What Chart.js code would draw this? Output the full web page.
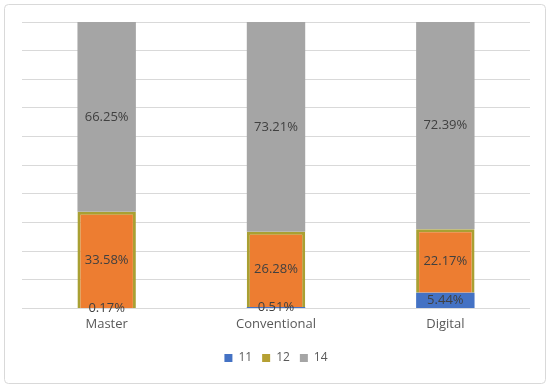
<!DOCTYPE html>
<html>
<head>
<meta charset="utf-8">
<script src="https://cdn.jsdelivr.net/npm/chart.js@4"></script>
<style>
  body { margin: 0; background: #fff; }
  #wrap { width: 550px; height: 388px; }
</style>
</head>
<body>
<div id="wrap"><canvas id="Groups" width="550" height="388"></canvas></div>
<script>
const categories = ['Master', 'Conventional', 'Digital'];
const seriesNames = ['11', '12', '14'];
const s11 = [0.17, 0.51, 5.44];
const s12 = [33.58, 26.28, 22.17];
const s14 = [66.25, 73.21, 72.39];

// rounded frame around the whole figure
const framePlugin = {
    id: 'frame',
    beforeDraw(chart) {
        const c = chart.ctx;
        c.save();
        c.fillStyle = '#fff';
        c.fillRect(0, 0, chart.width, chart.height);
        c.strokeStyle = '#d9d9d9';
        c.lineWidth = 1;
        c.beginPath();
        c.roundRect(4.5, 4.5, chart.width - 9, chart.height - 9, 4);
        c.stroke();
        c.restore();
    }
};

// percentage labels in the middle of each segment
const valueLabels = {
    id: 'valueLabels',
    afterDatasetsDraw(chart) {
        const c = chart.ctx;
        c.save();
        c.font = '13px "Open Sans", sans-serif';
        c.fillStyle = '#404040';
        c.textAlign = 'center';
        c.textBaseline = 'middle';
        chart.data.datasets.forEach((ds, i) => {
            chart.getDatasetMeta(i).data.forEach((bar, j) => {
                const y = (bar.y + bar.base) / 2;
                c.fillText(ds.data[j].toFixed(2) + '%', bar.x, y);
            });
        });
        c.restore();
    }
};

const ctx = document.getElementById('Groups').getContext('2d');
const chart = new Chart(ctx, {
    type: 'bar',
    data: {
        labels: categories,
        datasets: [{
            label: seriesNames[0],
            data: s11,
            backgroundColor: '#4472C4',
            borderWidth: 0
        }, {
            label: seriesNames[1],
            data: s12,
            backgroundColor: '#ED7D31',
            borderColor: '#A9A033',
            borderWidth: 3
        }, {
            label: seriesNames[2],
            data: s14,
            backgroundColor: '#A5A5A5',
            borderWidth: 0
        }]
    },
    options: {
        responsive: false,
        animation: false,
        datasets: { bar: { categoryPercentage: 1, barPercentage: 0.345 } },
        layout: { padding: { left: 22, right: 20, top: 22, bottom: 14 } },
        scales: {
            x: {
                stacked: true,
                grid: { display: false },
                border: { display: false },
                ticks: { color: '#595959', font: { size: 13, family: '"Open Sans", sans-serif' }, padding: 0 },
                afterFit(scale) { scale.height += 10; }
            },
            y: {
                stacked: true,
                min: 0,
                max: 100,
                grid: { color: '#d9d9d9', drawTicks: false },
                border: { display: false },
                ticks: { display: false, stepSize: 10 }
            }
        },
        plugins: {
            legend: {
                position: 'bottom',
                labels: {
                    boxWidth: 8,
                    boxHeight: 8,
                    color: '#595959',
                    font: { size: 12, family: '"Open Sans", sans-serif' },
                    generateLabels(ch) {
                        const items = Chart.defaults.plugins.legend.labels.generateLabels(ch);
                        items.forEach(it => {
                            if (it.datasetIndex === 1) it.fillStyle = '#B5A033';
                            it.lineWidth = 0;
                        });
                        return items;
                    }
                }
            },
            tooltip: { enabled: false }
        }
    },
    plugins: [framePlugin, valueLabels]
});
</script>
</body>
</html>
